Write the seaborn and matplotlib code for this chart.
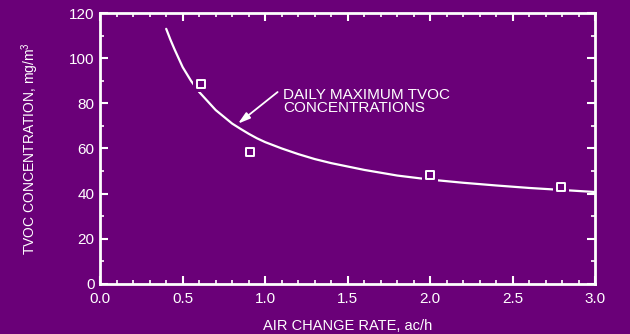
import numpy as np
import pandas as pd
import matplotlib
matplotlib.use("Agg")
import matplotlib.pyplot as plt
import seaborn as sns
from matplotlib.ticker import MultipleLocator, FormatStrFormatter

# Data
curve_x = [0.40, 0.425, 0.45, 0.475, 0.50, 0.525, 0.55, 0.575, 0.60, 0.625, 0.65, 0.675,
           0.70, 0.75, 0.80, 0.85, 0.90, 0.95, 1.00, 1.10, 1.20, 1.30, 1.40,
           1.60, 1.80, 2.00, 2.20, 2.40, 2.60, 2.80, 3.00]
curve_y = [113.0, 108.3, 104.0, 100.0, 96.0, 93.0, 90.0, 87.5, 85.0, 83.0, 81.0, 79.0,
           77.0, 74.0, 71.0, 68.7, 66.5, 64.5, 62.8, 60.0, 57.5, 55.3, 53.5,
           50.5, 48.0, 46.2, 44.8, 43.6, 42.5, 41.6, 40.7]
obs_x = [0.61, 0.91, 2.00, 2.79]
obs_y = [88.6, 58.4, 48.4, 43.1]

annot_text = "DAILY MAXIMUM TVOC\nCONCENTRATIONS"
x_label = "AIR CHANGE RATE, ac/h"
y_label = "TVOC CONCENTRATION, mg/m$^3$"

BG = "#6a0078"
FG = "white"

sns.set_theme(style="ticks")
plt.rcParams["font.family"] = ["Liberation Sans", "DejaVu Sans"]
plt.rcParams["mathtext.fontset"] = "custom"
plt.rcParams["mathtext.rm"] = "Liberation Sans"

fig = plt.figure(figsize=(6.30, 3.34), dpi=100, facecolor=BG)
ax = fig.add_axes([0.159, 0.150, 0.786, 0.811])
ax.set_facecolor(BG)

curve_df = pd.DataFrame({"x": curve_x, "y": curve_y})
obs_df = pd.DataFrame({"x": obs_x, "y": obs_y})

sns.lineplot(data=curve_df, x="x", y="y", ax=ax, color=FG, linewidth=1.6, zorder=2)
# purple halo to break the line around markers
sns.scatterplot(data=obs_df, x="x", y="y", ax=ax, marker="s", s=120,
                color=BG, edgecolor=BG, linewidth=0, zorder=3)
sns.scatterplot(data=obs_df, x="x", y="y", ax=ax, marker="s", s=38,
                facecolor=BG, edgecolor=FG, linewidth=1.4, zorder=4)

ax.set_xlim(0, 3.0)
ax.set_ylim(0, 120)
ax.xaxis.set_major_locator(MultipleLocator(0.5))
ax.xaxis.set_minor_locator(MultipleLocator(0.1))
ax.yaxis.set_major_locator(MultipleLocator(20))
ax.yaxis.set_minor_locator(MultipleLocator(10))
ax.xaxis.set_major_formatter(FormatStrFormatter("%.1f"))

for sp in ax.spines.values():
    sp.set_visible(True)
    sp.set_color(FG)
    sp.set_linewidth(2.0)

ax.tick_params(which="both", direction="in", colors=FG, top=True, right=True,
               labelsize=11)
ax.tick_params(which="major", length=6, width=1.5)
ax.tick_params(which="minor", length=3, width=1.2)
ax.tick_params(axis="x", which="major", pad=6)
ax.tick_params(axis="y", which="major", pad=4)

ax.set_xlabel(x_label, color=FG, fontsize=10.5, labelpad=9)
ax.set_ylabel(y_label, color=FG, fontsize=10, labelpad=20)

ax.text(1.11, 87.0, annot_text, color=FG, fontsize=11, ha="left", va="top",
        linespacing=0.95, zorder=5)
ax.annotate("", xy=(0.835, 71.0), xytext=(1.075, 85.0),
            arrowprops=dict(arrowstyle="-|>,head_length=0.6,head_width=0.18",
                            color=FG, lw=1.3, shrinkA=0, shrinkB=0,
                            mutation_scale=12),
            zorder=5)

fig.savefig("out.png", dpi=100, facecolor=BG)
